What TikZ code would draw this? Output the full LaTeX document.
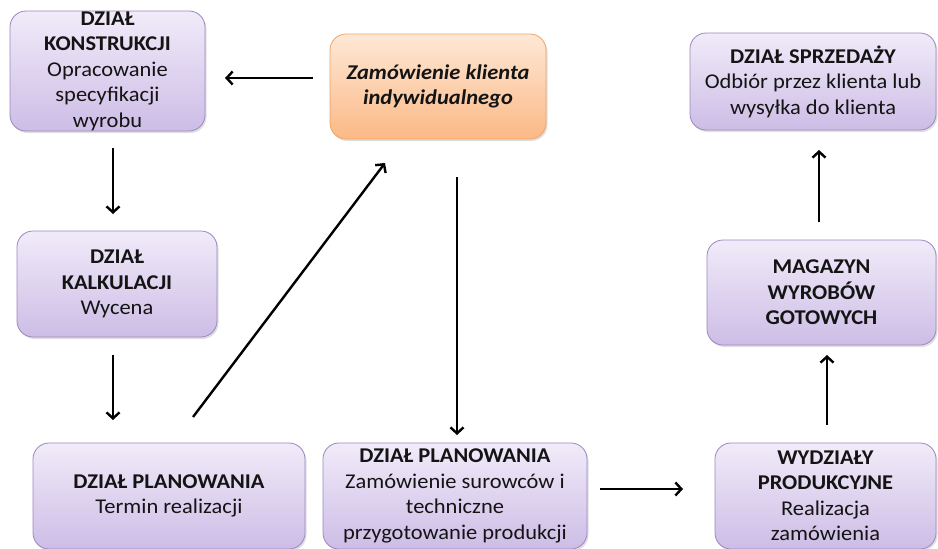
\documentclass[tikz,border=0pt]{standalone}
\usepackage{fontspec}
\setmainfont{Carlito}[FakeStretch=1.07]
\usetikzlibrary{arrows.meta,shadows}
\definecolor{boxtop}{HTML}{F1EBF9}
\definecolor{boxbot}{HTML}{CDBDE6}
\definecolor{boxline}{HTML}{9B88C0}
\definecolor{ordtop}{HTML}{FEE8D6}
\definecolor{ordbot}{HTML}{FBB986}
\definecolor{ordline}{HTML}{F2A462}
\definecolor{txt}{HTML}{141414}
\tikzset{
  x=1pt, y=-1pt,
  dept/.style={draw=boxline, line width=0.8pt, rounded corners=16pt,
    top color=boxtop, bottom color=boxbot, align=center, text=txt,
    font=\fontsize{21}{25.5}\selectfont, inner sep=0pt,
    drop shadow={opacity=0.25, shadow xshift=1.5pt, shadow yshift=-2pt}},
  order/.style={dept, draw=ordline, top color=ordtop, bottom color=ordbot,
    font=\fontsize{21}{25.5}\selectfont\bfseries\itshape},
  flow/.style={line width=2.4pt, -{Straight Barb[length=6pt,width=13pt,line width=2.4pt]}}
}
\newcommand{\hd}[1]{\textbf{#1}}
\begin{document}
\begin{tikzpicture}
\useasboundingbox (0,0) rectangle (938,549);
% process boxes
\node[dept, minimum width=195pt, minimum height=120pt] (konstr) at (107.5,71)
  {\hd{DZIAŁ}\\\hd{KONSTRUKCJI}\\Opracowanie\\specyfikacji\\wyrobu};
\node[order, minimum width=216pt, minimum height=105pt] (zam) at (438,86.5)
  {Zamówienie klienta\\indywidualnego};
\node[dept, minimum width=246pt, minimum height=97pt] (sprz) at (813,81.5)
  {\hd{DZIAŁ SPRZEDAŻY}\\Odbiór przez klienta lub\\wysyłka do klienta};
\node[dept, minimum width=200pt, minimum height=106pt] (kalk) at (117,284)
  {\hd{DZIAŁ}\\\hd{KALKULACJI}\\Wycena};
\node[dept, minimum width=229pt, minimum height=105pt] (mag) at (821.5,292.5)
  {\hd{MAGAZYN}\\\hd{WYROBÓW}\\\hd{GOTOWYCH}};
\node[dept, minimum width=272pt, minimum height=106pt] (planA) at (169,496)
  {\hd{DZIAŁ PLANOWANIA}\\Termin realizacji};
\node[dept, minimum width=264pt, minimum height=106pt] (planB) at (455,496)
  {\hd{DZIAŁ PLANOWANIA}\\Zamówienie surowców i\\techniczne\\przygotowanie produkcji};
\node[dept, minimum width=221pt, minimum height=106pt] (wydz) at (825.5,496)
  {\hd{WYDZIAŁY}\\\hd{PRODUKCYJNE}\\Realizacja\\zamówienia};
% connector ends
\coordinate (a1s) at (313,78);   \coordinate (a1e) at (225,78);
\coordinate (a2s) at (113,148);  \coordinate (a2e) at (113,214);
\coordinate (a3s) at (113,355);  \coordinate (a3e) at (113,420);
\coordinate (a4s) at (193,417);  \coordinate (a4e) at (385,163);
\coordinate (a5s) at (457,177);  \coordinate (a5e) at (457,435);
\coordinate (a6s) at (600,489);  \coordinate (a6e) at (683,489);
\coordinate (a7s) at (827,425);  \coordinate (a7e) at (827,355);
\coordinate (a8s) at (819,222);  \coordinate (a8e) at (819,150);
\draw[flow] (a1s) -- (a1e);
\draw[flow] (a2s) -- (a2e);
\draw[flow] (a3s) -- (a3e);
\draw[flow] (a4s) -- (a4e);
\draw[flow] (a5s) -- (a5e);
\draw[flow] (a6s) -- (a6e);
\draw[flow] (a7s) -- (a7e);
\draw[flow] (a8s) -- (a8e);
\end{tikzpicture}
\end{document}
